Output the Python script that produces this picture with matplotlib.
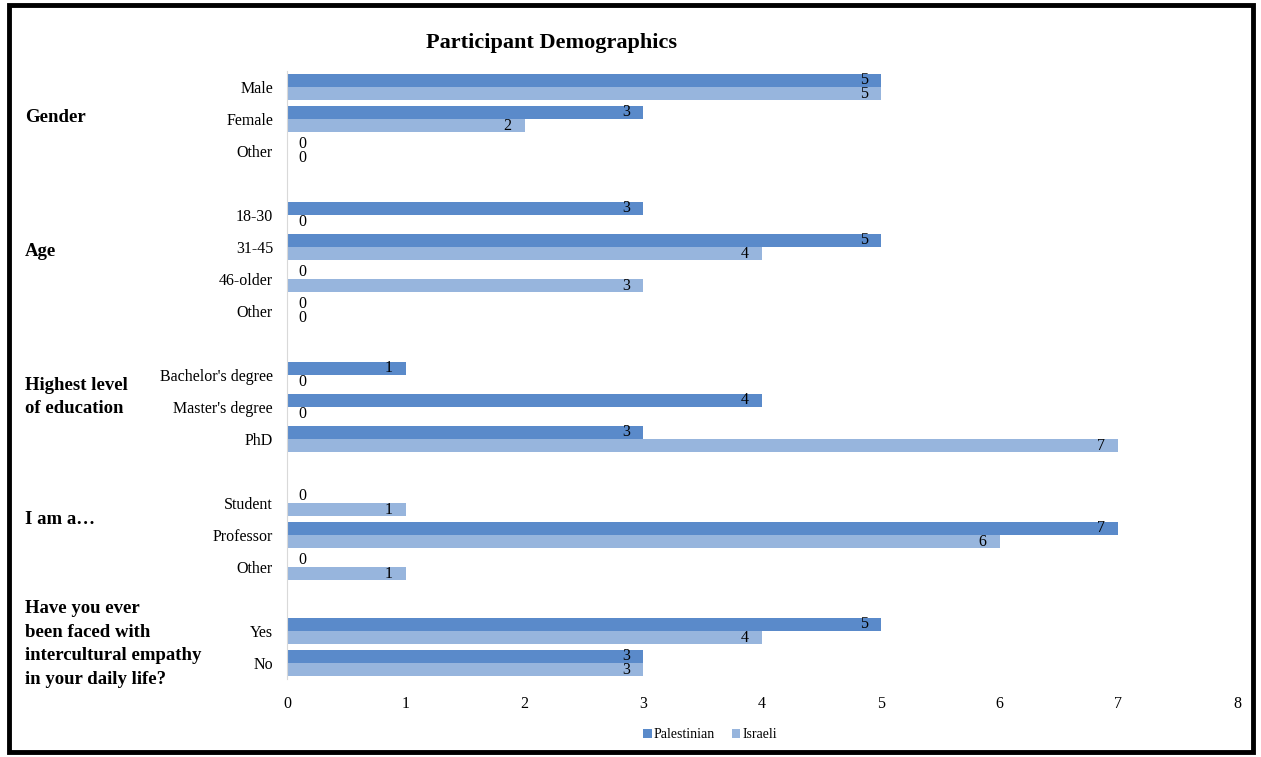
import matplotlib
matplotlib.use('Agg')
import matplotlib.pyplot as plt
import numpy as np
from matplotlib.patches import Rectangle

plt.rcParams['font.family'] = ['Liberation Serif', 'DejaVu Serif']

# 数据
categories = ['Male', 'Female', 'Other', '',
              '18-30', '31-45', '46-older', 'Other', '',
              "Bachelor's degree", "Master's degree", 'PhD', '',
              'Student', 'Professor', 'Other', '',
              'Yes', 'No']
palestinian = [5, 3, 0, None, 3, 5, 0, 0, None, 1, 4, 3, None, 0, 7, 0, None, 5, 3]
israeli = [5, 2, 0, None, 0, 4, 3, 0, None, 0, 0, 7, None, 1, 6, 1, None, 4, 3]
groups = ['Gender', 'Age', 'Highest level\nof education', 'I am a…',
          'Have you ever\nbeen faced with\nintercultural empathy\nin your daily life?']
group_y_px = [117, 252, 397, 520, 644]

col_pal = '#5A8ACA'
col_isr = '#97B5DD'

fig = plt.figure(figsize=(12.61, 7.57), dpi=100)
ax = fig.add_axes([287 / 1261, 1 - 679 / 757, (1237 - 287) / 1261, (679 - 71) / 757])

y = np.arange(len(categories))
h = 0.41
pv = np.array([v if v is not None else 0 for v in palestinian], dtype=float)
iv = np.array([v if v is not None else 0 for v in israeli], dtype=float)
mask = np.array([v is not None for v in palestinian])

b1 = ax.barh(y[mask] - h / 2, pv[mask], height=h, color=col_pal, label='Palestinian')
b2 = ax.barh(y[mask] + h / 2, iv[mask], height=h, color=col_isr, label='Israeli')

for vals, off in [(pv, -h / 2), (iv, h / 2)]:
    for yi, v, m in zip(y, vals, mask):
        if not m:
            continue
        if v > 0:
            ax.annotate(f'{int(v)}', (v, yi + off), xytext=(-17, 0), textcoords='offset pixels',
                        ha='center', va='center', fontsize=11.5)
        else:
            ax.annotate('0', (0, yi + off), xytext=(15, 0), textcoords='offset pixels',
                        ha='center', va='center', fontsize=11.5)

ax.set_xlim(0, 8)
ax.set_ylim(len(categories) - 0.5, -0.5)
ax.set_yticks(y[[c != '' for c in categories]])
ax.set_yticklabels([c for c in categories if c != ''], fontsize=11.5)
ax.set_xticks(range(9))
ax.tick_params(length=0, pad=10, labelsize=11.5)
ax.tick_params(axis='x', pad=12)
for s in ['top', 'right', 'bottom']:
    ax.spines[s].set_visible(False)
ax.spines['left'].set_color('#D9D9D9')

for g, gy in zip(groups, group_y_px):
    fig.text(25 / 1261, 1 - gy / 757, g, ha='left', va='center', fontsize=13.5,
             fontweight='bold', linespacing=1.5)

fig.text(552 / 1261, 1 - 43 / 757, 'Participant Demographics', ha='center', va='center',
         fontsize=16, fontweight='bold')

fig.legend(handles=[b1, b2], loc='center', bbox_to_anchor=(710 / 1261, 1 - 735 / 757),
           ncol=2, frameon=False, fontsize=10, handlelength=0.6, handleheight=0.6,
           handletextpad=0.15, columnspacing=1.2)

fig.patches.append(Rectangle((9 / 1261, 5 / 757), (1253 - 9) / 1261, (752 - 5) / 757,
                             transform=fig.transFigure, fill=False, edgecolor='black',
                             linewidth=3.5))

fig.savefig('out.png', dpi=100)
